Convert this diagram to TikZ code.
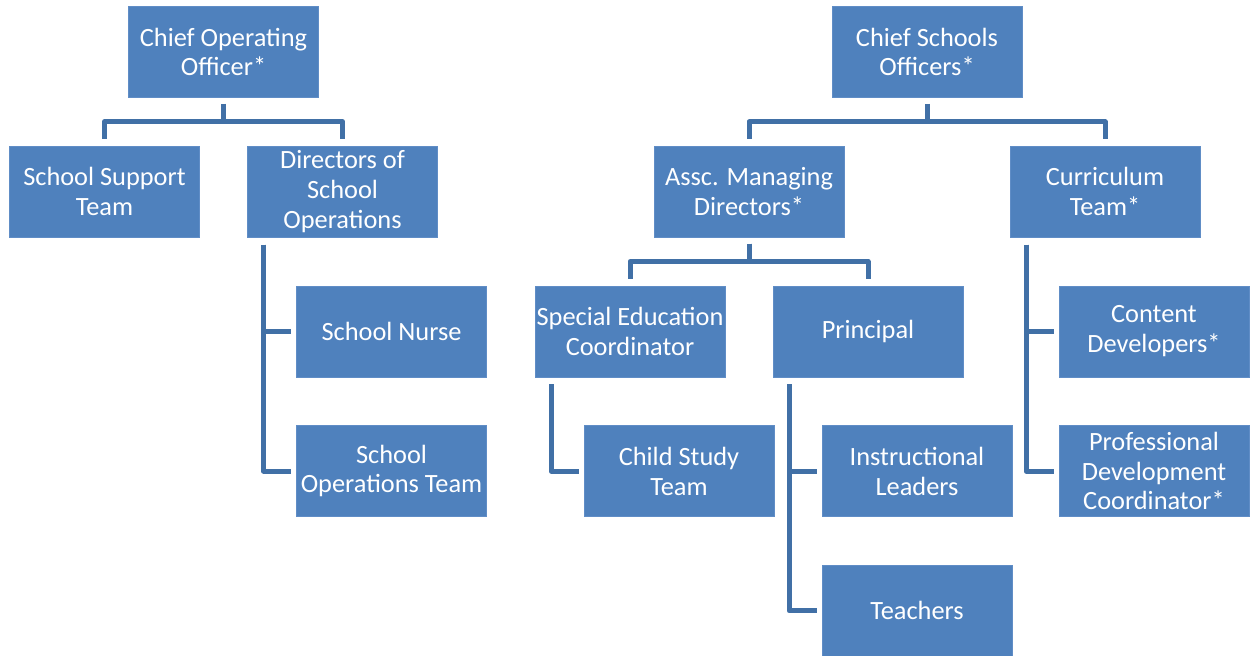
\documentclass[tikz,border=0pt]{standalone}
\usepackage{fontspec}
\setmainfont{Carlito}
\usepackage{tikz}
\usetikzlibrary{positioning}
\definecolor{boxblue}{RGB}{79,129,189}
\definecolor{boxedge}{RGB}{96,141,198}
\definecolor{linkblue}{RGB}{65,112,166}

\begin{document}
\begin{tikzpicture}[node distance=.96cm,every node/.style={font=\fontsize{15}{16.9}\selectfont},box/.style={draw=boxedge,line width=.4pt,fill=boxblue,text=white,align=center,inner xsep=0pt,inner ysep=1pt,minimum width=3.8cm,minimum height=1.82cm},link/.style={draw=linkblue,line width=.1cm,line join=round}]
    \useasboundingbox (0,0) rectangle (25.02,-13.10);
    % operations side
    \node[box] (coo) at (4.47,-1.04) {Chief Operating\\ Officer*};
    \node[box,below=of coo,xshift=-2.38cm] (sst) {School Support\\ Team};
    \node[box,below=of coo,xshift=2.38cm] (dso) {Directors of\\ School\\ Operations};
    \node[box,below=of dso,xshift=.98cm] (nurse) {School Nurse};
    \node[box,below=of nurse] (sot) {School\\ Operations Team};
    % schools side
    \node[box] (cso) at (18.54,-1.04) {Chief Schools\\ Officers*};
    \node[box,below=of cso,xshift=-3.56cm] (amd) {Assc. Managing\\ Directors*};
    \node[box,below=of cso,xshift=3.56cm] (cur) {Curriculum\\ Team*};
    \node[box,below=of amd,xshift=-2.38cm] (sec) {Special Education\\ Coordinator};
    \node[box,below=of amd,xshift=2.38cm] (prin) {Principal};
    \node[box,below=of sec,xshift=.98cm] (cst) {Child Study\\ Team};
    \node[box,below=of prin,xshift=.98cm] (il) {Instructional\\ Leaders};
    \node[box,below=of il] (tea) {Teachers};
    \node[box,below=of cur,xshift=.98cm] (cd) {Content\\ Developers*};
    \node[box,below=of cd] (pdc) {Professional\\ Development\\ Coordinator*};
    % tree links
    \foreach \p/\c in {coo/sst,coo/dso,cso/amd,cso/cur,amd/sec,amd/prin}
      \draw[link,shorten <=.12cm,shorten >=.14cm] (\p.south) -- ++(0,-.48) -| (\c.north);
    % side links
    \foreach \p/\c in {dso/nurse,dso/sot,sec/cst,prin/il,prin/tea,cur/cd,cur/pdc}
      \draw[link,shorten <=.14cm,shorten >=.1cm] ([xshift=.33cm]\p.south west) |- (\c.west);
  \end{tikzpicture}
\end{document}
